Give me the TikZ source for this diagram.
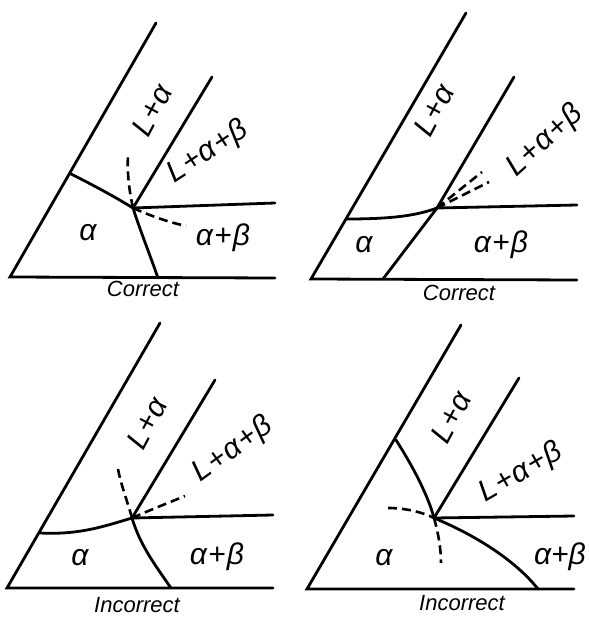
\documentclass[tikz,border=0pt]{standalone}
\usepackage{fontspec}
\setmainfont{Liberation Sans}
\usepackage{tikz}

\newcommand{\pl}{\kern0.6pt+\kern0.6pt}

\tikzset{
  boundary/.style={line width=1.4pt, line cap=round},
  metastable/.style={line width=1.3pt, dash pattern=on 4.5pt off 2.5pt},
  region/.style={font=\fontsize{15}{17}\selectfont\itshape, inner sep=0pt},
  caption/.style={font=\fontsize{11}{13}\selectfont\itshape, inner sep=0pt}
}

\begin{document}
\begin{tikzpicture}[x=0.5pt, y=-0.5pt]
        \useasboundingbox (0,0) rectangle (588,620);

        % Invariant points
        \coordinate (T1) at (133,208);
        \coordinate (T2) at (437,208);
        \coordinate (T3) at (132,518);
        \coordinate (T4) at (434,518);

        % Panel 1: correct
        \draw[boundary] (156,23) -- (10,277) -- (275,278);
        \draw[boundary] (T1) -- (212,77);
        \draw[boundary] (T1) -- (275,203);
        \draw[boundary] (71,174) .. controls (95,186) and (115,197) .. (T1);
        \draw[boundary] (T1) .. controls (140,230) and (150,255) .. (158,278);
        \draw[metastable] (T1) .. controls (129,190) and (127,172) .. (128,155);
        \draw[metastable] (T1) .. controls (151,216) and (168,222) .. (186,226);

        % Panel 2: correct
        \draw[boundary] (466,13) -- (311,279) -- (577,280);
        \draw[boundary] (383,279) -- (T2) -- (514,77);
        \draw[boundary] (T2) -- (577,205);
        \draw[boundary] (347,219) .. controls (395,219) and (418,215) .. (T2);
        \draw[metastable] (T2) -- (482,172);
        \draw[metastable] (T2) -- (489,182);

        % Panel 3: incorrect
        \draw[boundary] (160,323) -- (7,588) -- (273,588);
        \draw[boundary] (T3) -- (215,380);
        \draw[boundary] (T3) -- (273,515);
        \draw[boundary] (40,533) .. controls (80,535) and (105,526) .. (T3);
        \draw[boundary] (T3) .. controls (140,545) and (155,565) .. (171,588);
        \draw[metastable] (T3) .. controls (127,500) and (121,485) .. (118,469);
        \draw[metastable] (T3) .. controls (150,510) and (168,503) .. (185,496);

        % Panel 4: incorrect
        \draw[boundary] (461,325) -- (307,589) -- (574,589);
        \draw[boundary] (T4) -- (519,378);
        \draw[boundary] (T4) -- (574,516);
        \draw[boundary] (396,440) .. controls (412,465) and (428,495) .. (T4);
        \draw[boundary] (T4) .. controls (475,535) and (515,560) .. (538,589);
        \draw[metastable] (388,508) .. controls (405,508) and (422,512) .. (T4);
        \draw[metastable] (T4) .. controls (438,532) and (441,548) .. (441,563);

        % Phase labels
        \node[region, rotate=62] (la1) at (152,110) {L\pl α};
        \node[region, rotate=33] (lab1) at (208,152) {L\pl α\pl β};
        \node[region] (a1) at (88,233) {α};
        \node[region] (ab1) at (223,238) {α\pl β};
        \node[region, rotate=62] (la2) at (434,110) {L\pl α};
        \node[region, rotate=42] (lab2) at (545,141) {L\pl α\pl β};
        \node[region] (a2) at (364,245) {α};
        \node[region] (ab2) at (501,245) {α\pl β};
        \node[region, rotate=62] (la3) at (147,423) {L\pl α};
        \node[region, rotate=36] (lab3) at (233,450) {L\pl α\pl β};
        \node[region] (a3) at (80,558) {α};
        \node[region] (ab3) at (217,557) {α\pl β};
        \node[region, rotate=62] (la4) at (451,417) {L\pl α};
        \node[region, rotate=30] (lab4) at (521,473) {L\pl α\pl β};
        \node[region] (a4) at (384,558) {α};
        \node[region] (ab4) at (560,557) {α+β};

        % Captions
        \node[caption] (c1) at (143,289) {Correct};
        \node[caption] (c2) at (459,293) {Correct};
        \node[caption] (c3) at (137,605) {Incorrect};
        \node[caption] (c4) at (462,603) {Incorrect};
    \end{tikzpicture}
\end{document}
